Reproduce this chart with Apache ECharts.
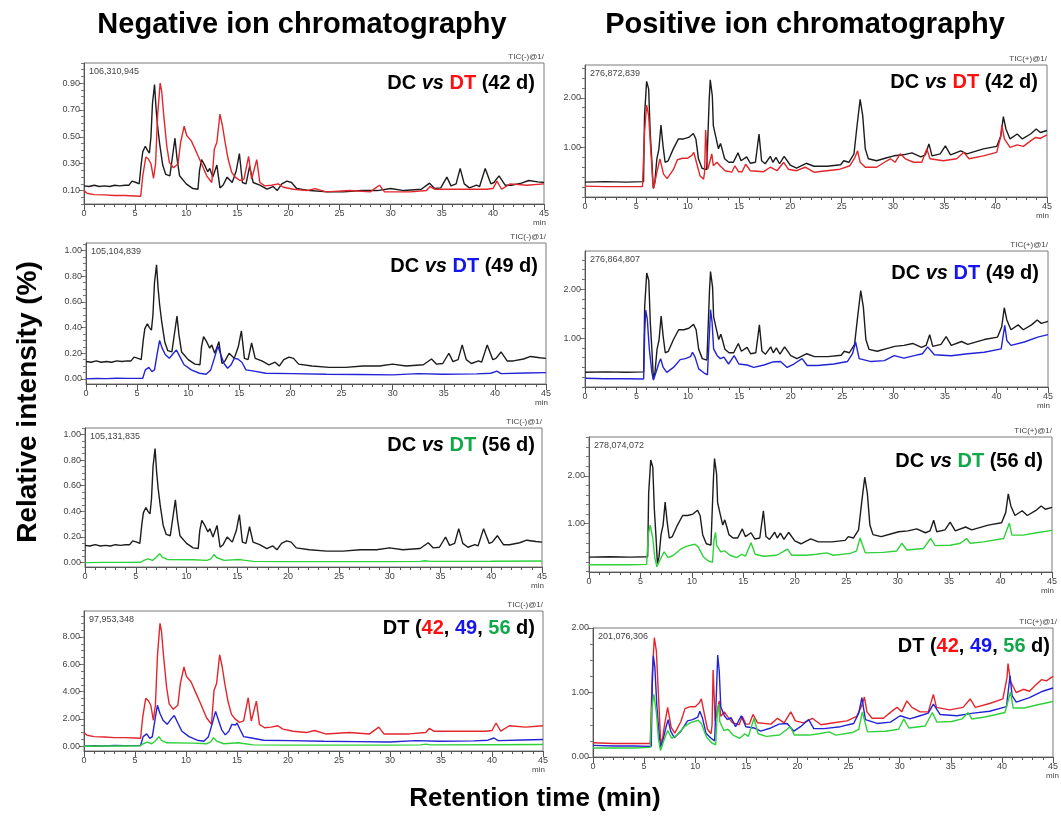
<!DOCTYPE html>
<html>
<head>
<meta charset="utf-8">
<script src="https://cdn.jsdelivr.net/npm/echarts@6/dist/echarts.min.js"></script>
<style>html,body{margin:0;padding:0;background:#fff}#c{width:1061px;height:819px}</style>
</head>
<body>
<div id="c"></div>
<script>
// ---------- DATA (retention time min, relative intensity) ----------
const dcNeg = [[0,0.135],[0.5,0.13],[1,0.14],[1.5,0.13],[2,0.135],[2.5,0.13],[3,0.14],[3.5,0.135],[4,0.14],[4.4,0.14],[4.7,0.17],[5.1,0.16],[5.4,0.15],[5.6,0.3],[5.75,0.39],[6.0,0.43],[6.2,0.40],[6.4,0.38],[6.55,0.5],[6.7,0.75],[6.9,0.89],[7.05,0.71],[7.2,0.58],[7.4,0.45],[7.7,0.29],[8.0,0.22],[8.4,0.21],[8.65,0.35],[8.9,0.49],[9.1,0.34],[9.35,0.21],[10.0,0.15],[10.65,0.115],[11.15,0.11],[11.3,0.25],[11.5,0.33],[11.8,0.29],[12.1,0.24],[12.3,0.265],[12.6,0.20],[13.0,0.29],[13.3,0.12],[13.6,0.14],[14.0,0.20],[14.5,0.16],[14.9,0.25],[15.2,0.375],[15.5,0.16],[15.85,0.15],[16.2,0.28],[16.55,0.16],[17.2,0.14],[17.9,0.11],[18.5,0.13],[18.9,0.10],[19.35,0.15],[19.85,0.17],[20.3,0.16],[20.8,0.115],[22.1,0.10],[23.8,0.09],[25.4,0.09],[27.1,0.10],[28.7,0.10],[30.0,0.115],[31.3,0.10],[33.0,0.11],[33.8,0.155],[34.3,0.115],[34.9,0.12],[35.5,0.20],[35.9,0.135],[36.4,0.15],[36.8,0.265],[37.2,0.15],[37.7,0.12],[38.4,0.14],[38.7,0.13],[39.25,0.265],[39.8,0.15],[40.1,0.16],[40.6,0.21],[41.2,0.14],[41.8,0.14],[42.8,0.155],[43.5,0.175],[44.4,0.165],[45,0.16]];
const dt42Neg = [[0,0.10],[0.3,0.08],[1,0.07],[2,0.068],[3,0.063],[4,0.063],[5,0.06],[5.55,0.058],[5.75,0.21],[6.05,0.35],[6.3,0.335],[6.55,0.30],[6.8,0.19],[7.0,0.30],[7.2,0.66],[7.45,0.90],[7.6,0.84],[7.8,0.66],[8.1,0.43],[8.35,0.31],[8.75,0.27],[9.2,0.30],[9.45,0.46],[9.8,0.58],[10.05,0.51],[10.5,0.47],[11.0,0.385],[11.5,0.30],[12.0,0.21],[12.5,0.16],[12.75,0.41],[13.0,0.46],[13.3,0.67],[13.55,0.58],[13.8,0.46],[14.1,0.335],[14.45,0.235],[14.8,0.20],[15.25,0.175],[15.65,0.185],[16.1,0.355],[16.4,0.185],[16.9,0.33],[17.2,0.16],[17.7,0.135],[18.35,0.14],[19.0,0.15],[19.5,0.125],[20.5,0.11],[21.8,0.10],[22.6,0.115],[23.7,0.09],[26.0,0.10],[28.0,0.09],[28.9,0.14],[29.4,0.09],[31.9,0.09],[33.5,0.10],[33.85,0.13],[34.3,0.11],[36.8,0.11],[39.4,0.11],[40.0,0.115],[40.4,0.17],[40.85,0.11],[41.7,0.15],[43.3,0.14],[45,0.15]];
const dt49Neg = [[0,0.0],[1,0.003],[2,0.002],[3,0.005],[4,0.004],[5.55,0.005],[5.8,0.07],[6.15,0.09],[6.45,0.057],[6.7,0.07],[6.95,0.19],[7.2,0.30],[7.45,0.24],[7.75,0.19],[8.15,0.16],[8.55,0.20],[8.85,0.225],[9.2,0.17],[9.6,0.11],[10.3,0.07],[11.1,0.044],[11.75,0.036],[12.2,0.07],[12.55,0.16],[12.9,0.255],[13.2,0.186],[13.5,0.12],[13.85,0.083],[14.2,0.11],[14.5,0.16],[14.85,0.155],[15.0,0.17],[15.25,0.13],[15.65,0.07],[16.3,0.062],[17.6,0.044],[20.2,0.041],[23.5,0.036],[26.7,0.034],[30,0.031],[32.5,0.041],[34.9,0.036],[38.2,0.039],[39.6,0.044],[40.2,0.06],[40.6,0.041],[43,0.046],[45,0.049]];
const dt56Neg = [[0,0.0],[2,0.002],[4,0.002],[5.5,0.003],[5.8,0.018],[6.2,0.03],[6.65,0.018],[7.0,0.04],[7.35,0.07],[7.6,0.043],[8.1,0.025],[10.7,0.023],[12.0,0.018],[12.4,0.03],[12.7,0.063],[13.0,0.038],[13.7,0.018],[15.15,0.025],[15.6,0.02],[16.6,0.01],[20,0.008],[25,0.008],[30,0.008],[33,0.01],[33.5,0.015],[34,0.01],[40,0.011],[45,0.013]];
const dcPos = [[0,0.30],[2,0.31],[4,0.30],[5.7,0.31],[5.8,1.64],[6.0,2.33],[6.2,2.18],[6.35,1.3],[6.5,0.77],[6.65,0.17],[6.8,0.30],[7.0,0.77],[7.2,0.97],[7.4,1.45],[7.6,1.03],[7.8,0.70],[8.1,0.73],[8.6,0.97],[9.1,1.17],[9.6,1.17],[10.1,1.20],[10.55,1.28],[10.8,1.17],[11.05,0.77],[11.4,0.58],[11.85,0.55],[12.0,0.52],[12.1,1.97],[12.2,2.36],[12.4,2.04],[12.5,1.44],[12.75,1.20],[13.0,0.97],[13.2,1.08],[13.4,0.93],[13.6,0.77],[14.0,0.70],[14.45,0.70],[14.9,0.89],[15.2,0.73],[15.75,0.81],[16.1,0.68],[16.6,0.70],[16.95,1.27],[17.2,0.73],[17.55,0.67],[18.05,0.82],[18.3,0.70],[18.6,0.80],[18.95,0.67],[19.4,0.82],[20.0,0.64],[20.6,0.58],[21.55,0.68],[22.3,0.62],[23.6,0.62],[24.9,0.65],[25.2,0.73],[25.7,0.70],[26.2,0.87],[26.5,1.44],[26.8,1.97],[27.05,1.64],[27.3,0.97],[27.6,0.77],[28.4,0.73],[29.4,0.79],[30.1,0.83],[31.0,0.85],[31.85,0.89],[32.7,0.81],[33.15,0.85],[33.5,1.07],[33.8,0.83],[34.6,0.87],[35.1,1.03],[35.6,0.85],[36.6,0.93],[37.2,0.87],[38.8,0.97],[40.1,1.02],[40.5,1.23],[40.75,1.62],[41.0,1.37],[41.4,1.17],[42.1,1.27],[42.6,1.17],[43.4,1.27],[43.95,1.37],[44.35,1.30],[45,1.34]];
const dt42Pos = [[0,0.22],[2,0.21],[4,0.21],[5.6,0.21],[5.8,1.30],[6.0,1.85],[6.2,1.64],[6.4,0.97],[6.6,0.30],[6.7,0.18],[7.0,0.50],[7.3,0.77],[7.65,0.46],[8.0,0.37],[8.6,0.55],[9.0,0.75],[9.5,0.78],[10.0,0.78],[10.4,0.84],[10.6,0.90],[10.9,0.66],[11.2,0.43],[11.55,0.36],[11.65,0.50],[11.75,1.35],[11.95,0.56],[12.1,0.66],[12.35,0.87],[12.5,0.63],[12.85,0.70],[13.15,0.63],[13.65,0.53],[14.3,0.50],[14.6,0.63],[14.95,0.51],[15.3,0.51],[15.65,0.66],[16.1,0.53],[17.4,0.51],[18.05,0.60],[18.7,0.53],[19.35,0.70],[19.8,0.56],[20.6,0.53],[21.45,0.60],[22.3,0.50],[23.55,0.53],[24.85,0.56],[25.8,0.63],[26.3,0.80],[26.55,0.93],[26.8,0.70],[27.3,0.60],[28.4,0.60],[29.4,0.73],[29.75,0.77],[30.2,0.70],[30.7,0.87],[31.2,0.77],[32.0,0.70],[32.8,0.70],[33.3,0.97],[33.6,0.77],[34.9,0.73],[36.2,0.77],[36.9,0.90],[37.4,0.77],[38.8,0.83],[40.1,0.90],[40.5,1.23],[40.6,1.45],[40.85,1.17],[41.4,1.00],[42.1,1.05],[42.7,1.02],[43.4,1.13],[43.9,1.20],[44.35,1.18],[45,1.25]];
const dt49Pos = [[0,0.18],[2,0.17],[4,0.17],[5.7,0.165],[5.8,1.12],[5.9,1.57],[6.05,1.40],[6.25,0.78],[6.5,0.30],[6.65,0.14],[6.9,0.30],[7.15,0.47],[7.35,0.58],[7.6,0.40],[7.95,0.30],[8.6,0.40],[9.25,0.56],[9.75,0.58],[10.25,0.62],[10.45,0.71],[10.7,0.61],[11.05,0.37],[11.55,0.29],[11.9,0.25],[12.1,1.12],[12.2,1.58],[12.35,1.33],[12.5,0.78],[12.85,0.64],[13.15,0.58],[13.5,0.61],[13.95,0.47],[14.5,0.64],[14.95,0.47],[15.75,0.45],[16.4,0.40],[17.4,0.45],[18.2,0.51],[19.0,0.52],[19.65,0.40],[20.3,0.47],[21.1,0.58],[21.6,0.44],[22.6,0.44],[24.2,0.47],[25.5,0.52],[26.0,0.68],[26.3,0.92],[26.65,0.58],[27.8,0.52],[29.1,0.54],[30.05,0.64],[31.0,0.59],[32.0,0.64],[32.8,0.68],[33.3,0.82],[33.95,0.66],[35.6,0.64],[37.2,0.68],[38.8,0.71],[40.45,0.78],[40.6,0.99],[40.8,1.26],[41.0,0.95],[41.4,0.85],[42.7,0.92],[44.0,1.02],[45,1.07]];
const dt56Pos = [[0,0.14],[2,0.14],[4,0.14],[5.6,0.15],[5.75,0.76],[5.95,0.97],[6.2,0.69],[6.4,0.28],[6.6,0.10],[6.9,0.24],[7.3,0.41],[7.7,0.29],[8.2,0.34],[9.0,0.48],[9.5,0.53],[10.3,0.57],[10.6,0.52],[11.1,0.31],[11.6,0.22],[12.0,0.19],[12.15,0.66],[12.3,0.82],[12.4,0.55],[12.8,0.41],[13.2,0.43],[13.7,0.34],[14.35,0.29],[14.85,0.36],[15.2,0.32],[15.75,0.60],[16.15,0.36],[16.95,0.32],[18.25,0.34],[19.3,0.47],[19.7,0.34],[21.15,0.34],[22.1,0.36],[23.1,0.39],[23.75,0.34],[25.4,0.38],[26.0,0.43],[26.35,0.70],[26.85,0.39],[28.6,0.40],[29.9,0.43],[30.4,0.59],[30.9,0.45],[32.5,0.48],[33.2,0.69],[33.65,0.54],[35.1,0.55],[36.1,0.59],[36.7,0.69],[37.05,0.59],[38.35,0.62],[40.3,0.69],[40.85,1.01],[41.1,0.76],[42.2,0.76],[43.5,0.81],[45,0.86]];

// ---------- TICK LABELS ----------
const xTicks = [0,5,10,15,20,25,30,35,40,45];
const yTicksNeg42 = [0.1,0.3,0.5,0.7,0.9];
const yTicksNeg = [0,0.2,0.4,0.6,0.8,1.0];
const yTicksNegAll = [0,0.2,0.4,0.6,0.8];   // shown as 0.00 ... 8.00 (scale x10)
const yTicksPos = [1,2];
const yTicksPosAll = [0,1,2];

const totals = ['106,310,945','276,872,839','105,104,839','276,864,807','105,131,835','278,074,072','97,953,348','201,076,306'];

const C = {k:'#1c1c1c', r:'#e3262b', b:'#2323d6', g:'#2fd13a'};
const FONT = "'Liberation Sans', Arial, Helvetica, sans-serif";

const panels = [
  {g:[84,63,460,141], y:[0,1.05], lab:yTicksNeg42, minor:0.05, s:[[dcNeg,C.k],[dt42Neg,C.r]], tic:'TIC(-)@1/', lr:526, lt:73, rich:'{k|DC }{i|vs }{r|DT}{k| (42 d)}'},
  {g:[585,65,462,132], y:[0,2.66], lab:yTicksPos, minor:0.2, s:[[dcPos,C.k],[dt42Pos,C.r]], tic:'TIC(+)@1/', lr:23, lt:72, rich:'{k|DC }{i|vs }{r|DT}{k| (42 d)}'},
  {g:[86,243,460,141], y:[-0.04,1.06], lab:yTicksNeg, minor:0.05, s:[[dcNeg,C.k],[dt49Neg,C.b]], tic:'TIC(-)@1/', lr:523, lt:256, rich:'{k|DC }{i|vs }{b|DT}{k| (49 d)}'},
  {g:[585,251,463,136], y:[0,2.78], lab:yTicksPos, minor:0.2, s:[[dcPos,C.k],[dt49Pos,C.b]], tic:'TIC(+)@1/', lr:22, lt:263, rich:'{k|DC }{i|vs }{b|DT}{k| (49 d)}'},
  {g:[85,428,457,139], y:[-0.034,1.05], lab:yTicksNeg, minor:0.05, s:[[dcNeg,C.k],[dt56Neg,C.g]], tic:'TIC(-)@1/', lr:526, lt:435, rich:'{k|DC }{i|vs }{gg|DT}{k| (56 d)}'},
  {g:[589,437,463,135], y:[-0.01,2.81], lab:yTicksPos, minor:0.2, s:[[dcPos,C.k],[dt56Pos,C.g]], tic:'TIC(+)@1/', lr:18, lt:451, rich:'{k|DC }{i|vs }{gg|DT}{k| (56 d)}'},
  {g:[84,611,459,140], y:[-0.035,0.99], lab:yTicksNegAll, minor:0.05, x10:true, s:[[dt42Neg,C.r],[dt49Neg,C.b],[dt56Neg,C.g]], tic:'TIC(-)@1/', lr:526, lt:618, rich:'{k|DT (}{r|42}{k|, }{b|49}{k|, }{gg|56}{k| d)}'},
  {g:[593,628,464,129], y:[0,2.0], lab:yTicksPosAll, minor:0.25, s:[[dt42Pos,C.r],[dt49Pos,C.b],[dt56Pos,C.g]], tic:'TIC(+)@1/', lr:11, lt:636, rich:'{k|DT (}{r|42}{k|, }{b|49}{k|, }{gg|56}{k| d)}'}
];

const richStyle = {
  k:{color:'#000', fontSize:20, fontWeight:'bold', fontFamily:FONT},
  i:{color:'#000', fontSize:20, fontWeight:'bold', fontStyle:'italic', fontFamily:FONT},
  r:{color:'#ff1010', fontSize:20, fontWeight:'bold', fontFamily:FONT},
  b:{color:'#1515ee', fontSize:20, fontWeight:'bold', fontFamily:FONT},
  gg:{color:'#12a84a', fontSize:20, fontWeight:'bold', fontFamily:FONT}
};

function range(a, b, step){ const out=[]; for(let v=a; v<=b+1e-9; v+=step) out.push(+v.toFixed(4)); return out; }

const grid=[], xAxis=[], yAxis=[], series=[], title=[], graphic=[];
panels.forEach((p,i)=>{
  const [l,t,w,h] = p.g;
  grid.push({left:l, top:t, width:w, height:h, show:true, borderColor:'#7a7a7a', borderWidth:1, backgroundColor:'#fff'});
  const axLine = {show:true, onZero:false, lineStyle:{color:'#555', width:1}};
  const noLine = {show:false, onZero:false};
  xAxis.push({type:'value', gridIndex:i, position:'bottom', min:0, max:45, axisLine:axLine, splitLine:{show:false},
    axisTick:{show:true, customValues:range(0,45,1), length:3, lineStyle:{color:'#555'}},
    axisLabel:{customValues:xTicks, fontSize:9, color:'#444', fontFamily:FONT, margin:5}});
  xAxis.push({type:'value', gridIndex:i, position:'bottom', min:0, max:45, axisLine:noLine, splitLine:{show:false},
    axisTick:{show:true, customValues:xTicks, length:6, lineStyle:{color:'#555'}}, axisLabel:{show:false}});
  const fmt = p.x10 ? (v => (v*10).toFixed(2)) : (v => v.toFixed(2));
  yAxis.push({type:'value', gridIndex:i, position:'left', min:p.y[0], max:p.y[1], axisLine:axLine, splitLine:{show:false},
    axisTick:{show:true, customValues:p.lab, length:5, lineStyle:{color:'#555'}},
    axisLabel:{customValues:p.lab, formatter:fmt, fontSize:9, color:'#444', fontFamily:FONT, margin:4}});
  yAxis.push({type:'value', gridIndex:i, position:'left', min:p.y[0], max:p.y[1], axisLine:noLine, splitLine:{show:false},
    axisTick:{show:true, customValues:range(0,p.y[1],p.minor), length:3, lineStyle:{color:'#777'}}, axisLabel:{show:false}});
  p.s.forEach(([d,col],j)=>{
    series.push({type:'line', xAxisIndex:2*i, yAxisIndex:2*i, data:d, symbol:'none', smooth:false,
      lineStyle:{width:1.4, color:col}, color:col, z:2+j, silent:true});
  });
  title.push({text:p.rich, right:p.lr, top:p.lt, padding:0, textStyle:{rich:richStyle}});
  graphic.push({type:'text', left:l+5, top:t+4, style:{text:totals[i], font:'9px '+FONT, fill:'#444'}});
  graphic.push({type:'text', right:1061-(l+w), top:t-10, style:{text:p.tic, font:'8px '+FONT, fill:'#444'}});
  graphic.push({type:'text', right:1061-(l+w)-2, top:t+h+15, style:{text:'min', font:'8px '+FONT, fill:'#444'}});
});

title.push({text:'Negative ion chromatography', left:302, top:10, textAlign:'center', padding:0,
  textStyle:{fontSize:29, fontWeight:'bold', color:'#000', fontFamily:FONT}});
title.push({text:'Positive ion chromatography', left:805, top:10, textAlign:'center', padding:0,
  textStyle:{fontSize:29, fontWeight:'bold', color:'#000', fontFamily:FONT}});
title.push({text:'Retention time (min)', left:535, top:786, textAlign:'center', padding:0,
  textStyle:{fontSize:26, fontWeight:'bold', color:'#000', fontFamily:FONT}});
graphic.push({type:'text', x:28, y:402, rotation:Math.PI/2,
  style:{text:'Relative intensity (%)', font:'bold 28px '+FONT, fill:'#000', textAlign:'center', textVerticalAlign:'middle', align:'center', verticalAlign:'middle'}});

const chart = echarts.init(document.getElementById('c'), null, {renderer:'canvas'});
chart.setOption({animation:false, backgroundColor:'#fff', grid, xAxis, yAxis, series, title, graphic});
</script>
</body>
</html>
